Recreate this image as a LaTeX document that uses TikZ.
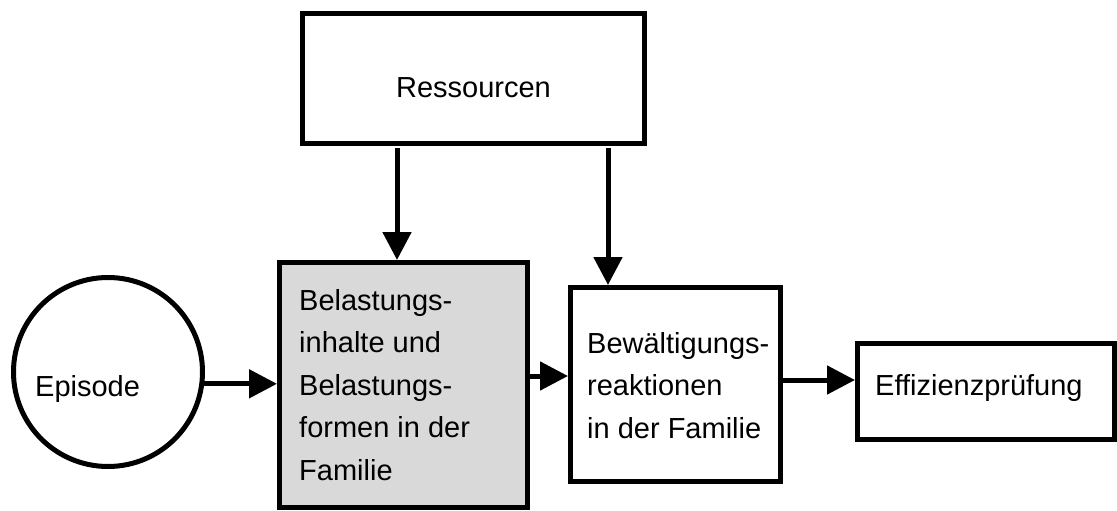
\documentclass[tikz,border=0pt]{standalone}
\usepackage{fontspec}
\setmainfont{Liberation Sans}
\usetikzlibrary{arrows.meta}
\definecolor{boxgray}{HTML}{D9D9D9}
\tikzset{
  box/.style={draw=black, line width=5pt, rectangle, inner sep=0pt},
  lbl/.style={anchor=base west, inner sep=0pt, align=left,
    font=\fontsize{29pt}{42.5pt}\selectfont},
  arr/.style={line width=5pt, -{Triangle[length=28pt,width=28pt]}}
}
\begin{document}
\begin{tikzpicture}[x=1pt,y=-1pt]
\useasboundingbox[fill=white] (0,0) rectangle (1117,511);
% shapes
\node[box, minimum width=342pt, minimum height=130pt] (res) at (473.5,78.5) {};
\node[box, fill=boxgray, minimum width=248pt, minimum height=245pt] (bel) at (403.5,385) {};
\node[box, minimum width=210pt, minimum height=194pt] (bew) at (675.5,384.5) {};
\node[box, minimum width=257pt, minimum height=96pt] (eff) at (986,391.5) {};
\node[draw=black, line width=5pt, circle, minimum size=189pt, inner sep=0pt] (epi) at (108,372) {};
% texts (base = baseline of last line)
\node[lbl, anchor=base] (tres) at (473.5,97) {Ressourcen};
\node[lbl] (tepi) at (35,396) {Episode};
\node[lbl] (tbel) at (299,480) {Belastungs-\\inhalte und\\Belastungs-\\formen in der\\Familie};
\node[lbl] (tbew) at (587,438) {Bewältigungs-\\reaktionen\\in der Familie};
\node[lbl] (teff) at (875,395) {Effizienzprüfung};
% connector columns
\coordinate (c1) at (397,0);
\coordinate (c2) at (608,0);
% connectors
\draw[arr] ([yshift=-2pt]res.south -| c1) -- (bel.north -| c1);
\draw[arr] ([yshift=-2pt]res.south -| c2) -- (bew.north -| c2);
\draw[arr] (epi.-7) -- (epi.-7 -| bel.west);
\draw[arr] ([yshift=9pt]bel.east) -- ([yshift=9pt]bel.east -| bew.west);
\draw[arr] ([yshift=4.5pt]bew.east) -- ([yshift=4.5pt]bew.east -| eff.west);
\end{tikzpicture}
\end{document}
